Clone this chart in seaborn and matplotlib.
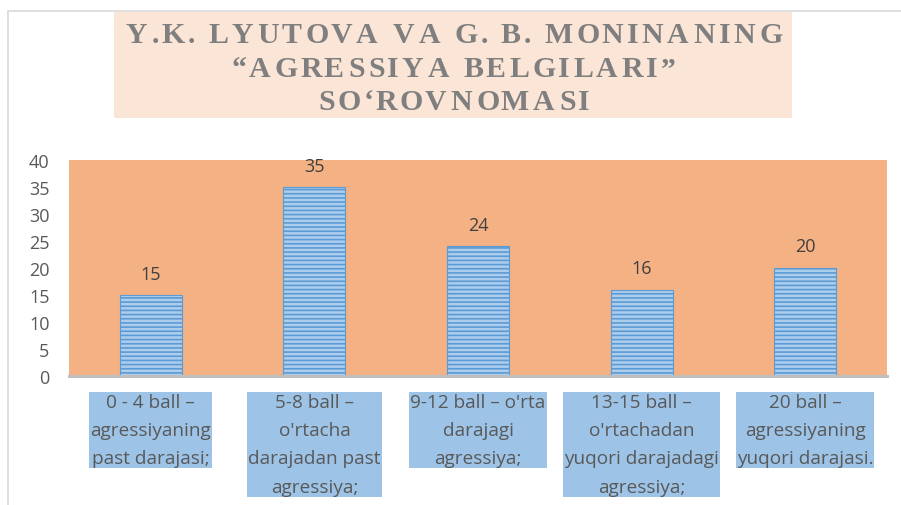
import pandas as pd
import seaborn as sns
import matplotlib.pyplot as plt
from matplotlib import font_manager
from matplotlib.ft2font import FT2Font
from matplotlib.lines import Line2D
from matplotlib.patches import Rectangle

# chart data
title_lines = [
    'Y.K. LYUTOVA VA G. B. MONINANING',
    '\u201cAGRESSIYA BELGILARI\u201d',
    'SO\u2018ROVNOMASI',
]
categories = [
    '0 - 4 ball \u2013\nagressiyaning\npast darajasi;',
    "5-8 ball \u2013\no'rtacha\ndarajadan past\nagressiya;",
    "9-12 ball \u2013 o'rta\ndarajagi\nagressiya;",
    "13-15 ball \u2013\no'rtachadan\nyuqori darajadagi\nagressiya;",
    '20 ball \u2013\nagressiyaning\nyuqori darajasi.',
]
values = [15, 35, 24, 16, 20]
y_ticks = [0, 5, 10, 15, 20, 25, 30, 35, 40]

W, H = 901, 506

sns.set_theme(style='white')
plt.rcParams['font.family'] = ['Open Sans', 'DejaVu Sans']
plt.rcParams['hatch.linewidth'] = 1.2

fig = plt.figure(figsize=(W / 100, H / 100), dpi=100)
fig.patch.set_facecolor('white')

# outer chart frame (left and top edge)
fig.add_artist(Line2D([8 / W, 1], [1 - 12 / H, 1 - 12 / H], color='#D9D9D9', lw=1.2))
fig.add_artist(Line2D([8 / W, 8 / W], [0, 1 - 12 / H], color='#D9D9D9', lw=1.2))

# title box
fig.add_artist(Rectangle((114 / W, 1 - 119 / H), 678 / W, 106 / H,
                         transform=fig.transFigure, facecolor='#FBE5D6', edgecolor='none'))

# title with letter spacing, one glyph at a time
title_size = 21.5
track = 2.75
fp = font_manager.FontProperties(family='Liberation Serif', weight='bold')
ft = FT2Font(font_manager.findfont(fp), hinting_factor=1)
ft.set_size(title_size, 100)
for line, base in zip(title_lines, [43, 77, 110]):
    glyphs = [ft.load_char(ord(c)) for c in line]
    total = sum(g.horiAdvance / 64 for g in glyphs) + track * (len(line) - 1)
    pen = 453 - total / 2
    for c, g in zip(line, glyphs):
        if c != ' ':
            fig.text((pen + g.horiBearingX / 64) / W, 1 - base / H, c, ha='left', va='baseline',
                     fontproperties=fp, fontsize=title_size, color='#7F7F7F')
        pen += g.horiAdvance / 64 + track

ax = fig.add_axes([69 / W, 1 - 377 / H, 818 / W, 216 / H])
df = pd.DataFrame({'category': categories, 'value': values})
sns.barplot(data=df, x='category', y='value', ax=ax, width=0.38, color='#ADCDEC',
            saturation=1, edgecolor='#5B9BD5', linewidth=0.8, hatch='----')

ax.set_facecolor('#F4B183')
ax.set_ylim(0, 40)
ax.set_yticks(y_ticks)
ax.set_xlabel('')
ax.set_ylabel('')
for side in ['top', 'right', 'left']:
    ax.spines[side].set_visible(False)
ax.spines['bottom'].set_color('#BFBFBF')
ax.spines['bottom'].set_linewidth(2.2)
ax.tick_params(axis='y', length=0, pad=14, labelsize=13, labelcolor='#595959')
ax.tick_params(axis='x', length=0, pad=12, labelsize=13.7, labelcolor='#595959')
for lab in ax.get_xticklabels():
    lab.set_linespacing(1.74)
    lab.set_multialignment('center')
    lab.set_bbox(dict(facecolor='#9DC3E6', edgecolor='none', boxstyle='square,pad=0.05'))

ax.bar_label(ax.containers[0], padding=9, fontsize=13, color='#404040')

fig.savefig('out.png', dpi=100)
